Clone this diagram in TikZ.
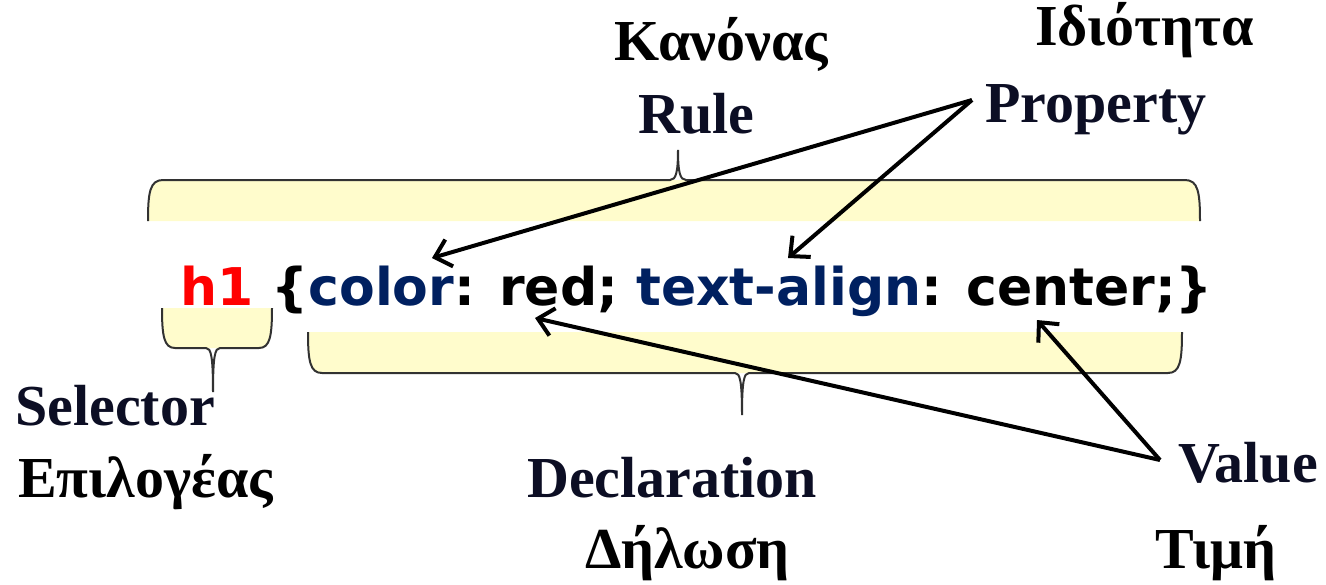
\documentclass[tikz,border=0pt]{standalone}
\usepackage{fontspec}
\setmainfont{Liberation Serif}
\newfontfamily\codefont{DejaVu Sans}
\usetikzlibrary{arrows.meta}
\definecolor{bandyellow}{RGB}{255,252,204}
\definecolor{bracegray}{RGB}{50,50,50}
\definecolor{labelnavy}{RGB}{12,14,36}
\definecolor{codenavy}{RGB}{0,32,96}
\definecolor{codered}{RGB}{255,0,0}
\begin{document}
\begin{tikzpicture}[x=1pt,y=-1pt,
  lbl/.style={anchor=base west, inner sep=0pt, font=\fontsize{58}{60}\selectfont\bfseries},
  en/.style={lbl, text=labelnavy},
  gr/.style={lbl, text=black},
  bracestroke/.style={draw=bracegray, line width=2pt},
  bandfill/.style={fill=bandyellow},
  pointer/.style={line width=4pt, -{Straight Barb[length=15pt,width=28pt,line width=4pt]}}]
\useasboundingbox (0,0) rectangle (1326,584);
% Rule brace
\fill[bandfill] (148,221) .. controls (148,192) and (150,180) .. (163,180) -- (1185,180) .. controls (1198,180) and (1200,192) .. (1200,221) -- cycle;
\draw[bracestroke] (148,221) .. controls (148,192) and (150,180) .. (163,180) -- (670,180) .. controls (676,180) and (678,172) .. (678,150) .. controls (678,172) and (680,180) .. (686,180) -- (1185,180) .. controls (1198,180) and (1200,192) .. (1200,221);
% Selector brace
\fill[bandfill] (162,308) .. controls (162,336) and (164,348) .. (175,348) -- (259,348) .. controls (270,348) and (272,336) .. (272,308) -- cycle;
\draw[bracestroke] (162,308) .. controls (162,336) and (164,348) .. (175,348) -- (206,348) .. controls (211,348) and (213,356) .. (213,392) .. controls (213,356) and (215,348) .. (220,348) -- (259,348) .. controls (270,348) and (272,336) .. (272,308);
% Declaration brace
\fill[bandfill] (308,332) .. controls (308,361) and (310,373) .. (322,373) -- (1168,373) .. controls (1180,373) and (1182,361) .. (1182,332) -- cycle;
\draw[bracestroke] (308,332) .. controls (308,361) and (310,373) .. (322,373) -- (735,373) .. controls (740,373) and (742,381) .. (742,415) .. controls (742,381) and (744,373) .. (749,373) -- (1168,373) .. controls (1180,373) and (1182,361) .. (1182,332);
% Code line
\node[anchor=base west, inner sep=0pt, font=\fontsize{52}{56}\selectfont\codefont\bfseries] (code) at (180,305) {\textcolor{codered}{h1} \{\textcolor{codenavy}{color}: red; \textcolor{codenavy}{text-align}: center;\}};
% Labels
\node[gr] (kanonas) at (614,60) {Κανόνας};
\node[en] (rule) at (638,133) {Rule};
\node[gr] (idiotita) at (1035,45) {Ιδιότητα};
\node[en] (property) at (985,122) {Property};
\node[en] (selector) at (15,425) {Selector};
\node[gr] (epilogeas) at (18,497) {Επιλογέας};
\node[en] (declaration) at (527,497) {Declaration};
\node[gr] (dilosi) at (585,568) {Δήλωση};
\node[en] (value) at (1178,482) {Value};
\node[gr] (timi) at (1155,568) {Τιμή};
% Arrow anchors
\coordinate (pstart) at (972,100);
\coordinate (vstart) at (1160,460);
\coordinate (tcolor) at (432,258);
\coordinate (talign) at (788,258);
\coordinate (tred) at (535,318);
\coordinate (tcenter) at (1037,320);
\draw[pointer] (pstart) -- (tcolor);
\draw[pointer] (pstart) -- (talign);
\draw[pointer] (vstart) -- (tred);
\draw[pointer] (vstart) -- (tcenter);
\end{tikzpicture}
\end{document}
